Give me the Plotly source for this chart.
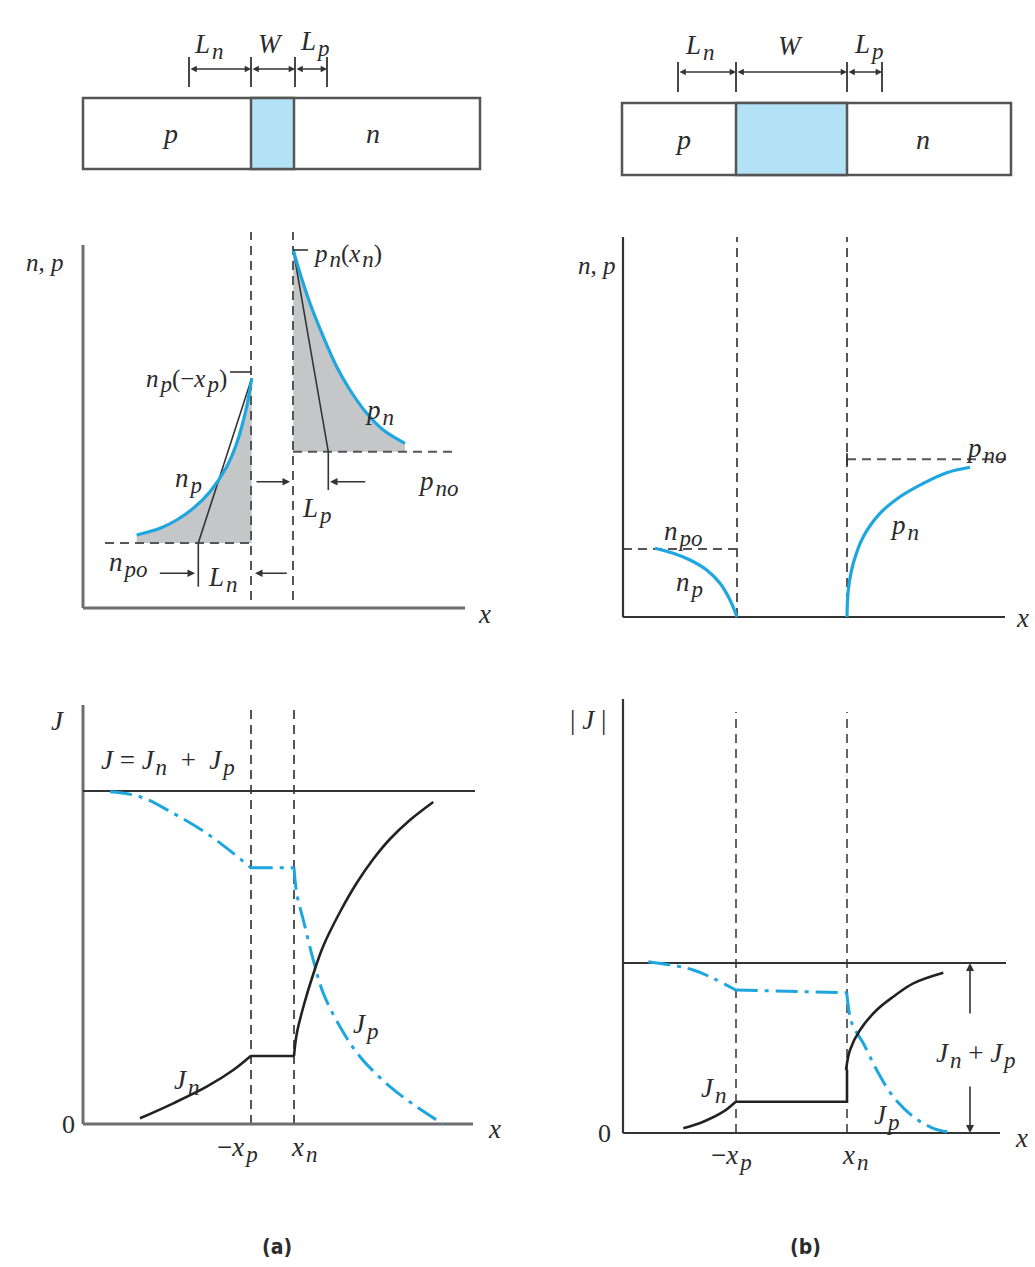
import plotly.graph_objects as go

W, H = 1035, 1267
SCALE = 10.0

BLUE = '#1da6e0'
LBLUE = '#b3e1f6'
GRAY = '#c5c6c8'
DARK = '#333333'
AXA = '#6e6e6e'
DASHC = '#555555'
FONT = 'Liberation Serif'

# ---------------- data (panel units) ----------------
# (a) device bar
dev_a_size = [39.7, 7.1]
dev_a_W = [16.8, 21.1]
dev_a_ticks = [10.6, 16.8, 21.2, 24.4]
dev_a_dim_y = 10.0
dev_a_tick_y = [8.2, 11.2]
# (b) device bar
dev_b_size = [38.9, 7.2]
dev_b_W = [11.4, 22.5]
dev_b_ticks = [5.6, 11.4, 22.5, 26.0]
dev_b_dim_y = 10.3
dev_b_tick_y = [8.3, 11.3]

# (a) carrier panel
a_xp, a_xn = 16.8, 21.0
a_vdash_y = [0.8, 37.6]
a_axis_x = [0, 38.2]
a_axis_y = [0, 36.3]
a_npo = 6.5
a_npo_x = [2.2, 16.8]
a_np_x = [5.37, 7.7, 9.37, 11.03, 12.7, 14.37, 15.37, 16.37, 16.87]
a_np_y = [7.3, 7.97, 8.8, 9.97, 11.63, 14.13, 16.47, 20.13, 22.97]
a_pno = 15.63
a_pno_x = [21.0, 37.37]
a_pn_x = [21.03, 21.7, 22.7, 24.03, 25.37, 26.7, 28.37, 30.03, 32.2]
a_pn_y = [35.8, 33.47, 30.47, 27.13, 24.13, 21.8, 19.47, 17.8, 16.47]
a_Ln_x = [16.87, 11.53, 11.53]
a_Ln_y = [22.97, 6.5, 2.13]
a_Lp_x = [21.03, 24.53, 24.53]
a_Lp_y = [35.8, 15.63, 11.8]

# (b) carrier panel
b_xp, b_xn = 11.4, 22.4
b_vdash_y = [0, 38.0]
b_axis_x = [0, 38.2]
b_axis_y = [0, 38.0]
b_npo = 6.8
b_np_x = [3.2, 5.03, 6.7, 8.37, 9.7, 10.7, 11.4]
b_np_y = [6.87, 6.37, 5.7, 4.7, 3.37, 1.7, 0.0]
b_pno = 15.77
b_pno_x = [22.4, 38.37]
b_pn_x = [22.4, 22.53, 23.03, 24.03, 25.7, 27.7, 30.03, 32.37, 34.7]
b_pn_y = [0.0, 2.7, 5.37, 8.03, 10.37, 12.03, 13.37, 14.43, 14.97]

# (a) current panel
aj_axis_x = [0, 39.0]
aj_axis_y = [0, 41.9]
aj_J = 33.3
aj_J_x = [0, 39.2]
aj_vdash_y = [0, 41.9]
aj_Jp_left_x = [2.7, 5.7, 9.03, 12.37, 15.03, 16.77]
aj_Jp_left_y = [33.23, 32.73, 31.07, 29.07, 27.07, 25.63]
aj_Jp_flat = 25.63
aj_Jp_right_x = [21.1, 21.37, 22.03, 23.03, 24.03, 25.7, 27.7, 30.7, 33.37, 36.0]
aj_Jp_right_y = [25.63, 23.07, 20.4, 16.4, 13.07, 9.73, 6.73, 3.73, 1.73, 0.0]
aj_Jn_left_x = [5.7, 9.03, 12.37, 15.03, 16.77]
aj_Jn_left_y = [0.57, 2.07, 3.73, 5.4, 6.8]
aj_Jn_flat = 6.8
aj_Jn_right_x = [21.1, 21.37, 22.03, 23.03, 24.03, 25.7, 27.37, 29.03, 30.7, 32.7, 35.03]
aj_Jn_right_y = [6.8, 9.0, 11.7, 15.0, 17.8, 21.2, 24.1, 26.5, 28.5, 30.4, 32.2]

# (b) current panel
bj_xp, bj_xn = 11.3, 22.4
bj_axis_x = [0, 37.7]
bj_axis_y = [0, 43.4]
bj_J = 17.0
bj_J_x = [0, 38.3]
bj_vdash_y = [0, 42.1]
bj_Jp_left_x = [2.53, 5.37, 7.03, 9.03, 11.27]
bj_Jp_left_y = [17.13, 16.7, 16.3, 15.47, 14.3]
bj_Jp_flat = [14.3, 14.03]
bj_Jp_right_x = [22.37, 22.7, 23.03, 24.03, 25.37, 27.03, 29.03, 31.03, 33.2]
bj_Jp_right_y = [14.03, 11.63, 10.63, 8.97, 6.3, 3.63, 1.63, 0.47, 0.0]
bj_Jn_left_x = [6.03, 8.03, 10.03, 11.27]
bj_Jn_left_y = [0.47, 1.13, 2.13, 3.13]
bj_Jn_flat = 3.13
bj_Jn_right_x = [22.3, 22.7, 23.7, 25.37, 27.03, 29.03, 32.03]
bj_Jn_right_y = [6.3, 8.3, 10.3, 12.3, 13.63, 14.97, 16.03]
bj_sum_x = 34.7
bj_sum_y = [0.0, 4.8, 11.8, 17.0]

# ---------------- panels: origin pixel and rect (L, T, R, B) ----------------
PANELS = [
    ((83, 169), (70, 20, 495, 185)),     # 1 device a
    ((622, 175), (610, 20, 1025, 190)),  # 2 device b
    ((83, 608), (70, 220, 495, 622)),    # 3 carriers a
    ((623, 617), (610, 220, 1025, 632)), # 4 carriers b
    ((83, 1124), (70, 690, 495, 1138)),  # 5 current a
    ((623, 1133), (610, 690, 1025, 1147)),  # 6 current b
]


def xid(i):
    return 'x' if i == 1 else f'x{i}'


def yid(i):
    return 'y' if i == 1 else f'y{i}'


fig = go.Figure()
layout_axes = {}
for i, ((ox, oy), (L, T, R, B)) in enumerate(PANELS, start=1):
    xa = 'xaxis' if i == 1 else f'xaxis{i}'
    ya = 'yaxis' if i == 1 else f'yaxis{i}'
    layout_axes[xa] = dict(domain=[L / W, R / W], range=[(L - ox) / SCALE, (R - ox) / SCALE],
                           visible=False, anchor=yid(i), fixedrange=True)
    layout_axes[ya] = dict(domain=[1 - B / H, 1 - T / H], range=[(oy - B) / SCALE, (oy - T) / SCALE],
                           visible=False, anchor=xid(i), fixedrange=True)


def line(i, xs, ys, color=DARK, width=2, dash=None, shape='linear'):
    fig.add_trace(go.Scatter(x=xs, y=ys, xaxis=xid(i), yaxis=yid(i), mode='lines',
                             line=dict(color=color, width=width, dash=dash, shape=shape, smoothing=1.0),
                             hoverinfo='skip', showlegend=False))


def fill(i, xs, ys, color):
    fig.add_trace(go.Scatter(x=xs, y=ys, xaxis=xid(i), yaxis=yid(i), mode='lines', fill='toself',
                             fillcolor=color, line=dict(width=0, color=color),
                             hoverinfo='skip', showlegend=False))


annots = []
shapes = []


def arrow(i, x0, y0, x1, y1, both=False, size=1.0, width=1.5):
    annots.append(dict(xref=xid(i), yref=yid(i), axref=xid(i), ayref=yid(i),
                       x=x1, y=y1, ax=x0, ay=y0, text='', showarrow=True,
                       arrowhead=2, arrowsize=size, arrowwidth=width, arrowcolor=DARK,
                       arrowside='end+start' if both else 'end', standoff=0, startstandoff=0))


MAIN = 27


def txt(px, py, text, size=MAIN, xanchor='center', yanchor='middle', family=FONT, color='#2b2b2b'):
    annots.append(dict(xref='paper', yref='paper', x=px / W, y=1 - py / H, text=text,
                       showarrow=False, xanchor=xanchor, yanchor=yanchor,
                       font=dict(family=family, size=size, color=color)))


def S(base, s, sz=23):
    return f'<i>{base}<sub><span style="font-size:{sz}px">&#8202;{s}</span></sub></i>'


I = lambda s: f'<i>{s}</i>'
SP = '&nbsp;'
SP2 = '&nbsp;&nbsp;'

DASH = '9px,6px'
JDASH = '22px,7px,4px,7px'

# ---------------- device bars ----------------
for i, size, wreg, ticks, dimy, ty in [
        (1, dev_a_size, dev_a_W, dev_a_ticks, dev_a_dim_y, dev_a_tick_y),
        (2, dev_b_size, dev_b_W, dev_b_ticks, dev_b_dim_y, dev_b_tick_y)]:
    shapes.append(dict(type='rect', xref=xid(i), yref=yid(i), x0=0, y0=0, x1=size[0], y1=size[1],
                       fillcolor='white', line=dict(color='#555555', width=2.5), layer='below'))
    shapes.append(dict(type='rect', xref=xid(i), yref=yid(i), x0=wreg[0], y0=0, x1=wreg[1], y1=size[1],
                       fillcolor=LBLUE, line=dict(color='#555555', width=2.5), layer='below'))
    for t in ticks:
        line(i, [t, t], ty, color=DARK, width=1.8)
    for a, b in zip(ticks[:-1], ticks[1:]):
        arrow(i, a, dimy, b, dimy, both=True, size=0.9, width=1.4)

# ---------------- (a) carriers ----------------
fill(3, a_np_x + [a_np_x[-1], a_np_x[0]], a_np_y + [a_npo, a_npo], GRAY)
fill(3, a_pn_x + [a_pn_x[-1], a_pn_x[0]], a_pn_y + [a_pno, a_pno], GRAY)
line(3, [a_xp, a_xp], a_vdash_y, DASHC, 2, DASH)
line(3, [a_xn, a_xn], a_vdash_y, DASHC, 2, DASH)
line(3, a_npo_x, [a_npo, a_npo], DASHC, 2, DASH)
line(3, a_pno_x, [a_pno, a_pno], DASHC, 2, DASH)
line(3, a_axis_x, [0, 0], AXA, 3)
line(3, [0, 0], a_axis_y, AXA, 3)
line(3, a_Ln_x, a_Ln_y, DARK, 1.6)
line(3, a_Lp_x, a_Lp_y, DARK, 1.6)
line(3, a_np_x, a_np_y, BLUE, 3.2, shape='spline')
line(3, a_pn_x, a_pn_y, BLUE, 3.2, shape='spline')
line(3, [14.7, a_xp], [23.6, 23.6], DARK, 1.6)
line(3, [a_xn, 22.5], [35.8, 35.8], DARK, 1.6)
arrow(3, 17.2, 12.63, 20.7, 12.63)
arrow(3, 28.37, 12.63, 24.7, 12.63)
arrow(3, 7.53, 3.47, 11.2, 3.47)
arrow(3, 20.53, 3.47, 17.2, 3.47)

# ---------------- (b) carriers ----------------
line(4, [b_xp, b_xp], b_vdash_y, DASHC, 2, DASH)
line(4, [b_xn, b_xn], b_vdash_y, DASHC, 2, DASH)
line(4, [0, b_xp], [b_npo, b_npo], DASHC, 2, DASH)
line(4, b_pno_x, [b_pno, b_pno], DASHC, 2, DASH)
line(4, [b_xn, b_xn], [b_pno - 0.6, b_pno + 0.6], DARK, 1.8)
line(4, b_axis_x, [0, 0], DARK, 2.2)
line(4, [0, 0], b_axis_y, DARK, 2.2)
line(4, b_np_x, b_np_y, BLUE, 3.2, shape='spline')
line(4, b_pn_x, b_pn_y, BLUE, 3.2, shape='spline')

# ---------------- (a) current ----------------
line(5, [a_xp, a_xp], aj_vdash_y, DASHC, 2, DASH)
line(5, [21.1, 21.1], aj_vdash_y, DASHC, 2, DASH)
line(5, aj_axis_x, [0, 0], AXA, 3)
line(5, [0, 0], aj_axis_y, AXA, 3)
line(5, aj_J_x, [aj_J, aj_J], DARK, 2)
line(5, aj_Jp_left_x, aj_Jp_left_y, BLUE, 3, JDASH, 'spline')
line(5, [aj_Jp_left_x[-1], aj_Jp_right_x[0]], [aj_Jp_flat, aj_Jp_flat], BLUE, 3, JDASH)
line(5, aj_Jp_right_x, aj_Jp_right_y, BLUE, 3, JDASH, 'spline')
line(5, aj_Jn_left_x, aj_Jn_left_y, '#222222', 2.6, shape='spline')
line(5, [aj_Jn_left_x[-1], aj_Jn_right_x[0]], [aj_Jn_flat, aj_Jn_flat], '#222222', 2.6)
line(5, aj_Jn_right_x, aj_Jn_right_y, '#222222', 2.6, shape='spline')

# ---------------- (b) current ----------------
line(6, [bj_xp, bj_xp], bj_vdash_y, DASHC, 1.8, DASH)
line(6, [bj_xn, bj_xn], bj_vdash_y, DASHC, 1.8, DASH)
line(6, bj_axis_x, [0, 0], DARK, 2.2)
line(6, [0, 0], bj_axis_y, DARK, 2.2)
line(6, bj_J_x, [bj_J, bj_J], DARK, 1.8)
line(6, bj_Jp_left_x, bj_Jp_left_y, BLUE, 3, JDASH, 'spline')
line(6, [bj_Jp_left_x[-1], bj_Jp_right_x[0]], bj_Jp_flat, BLUE, 3, JDASH)
line(6, bj_Jp_right_x, bj_Jp_right_y, BLUE, 3, JDASH, 'spline')
line(6, bj_Jn_left_x, bj_Jn_left_y, '#222222', 2.6, shape='spline')
line(6, [bj_Jn_left_x[-1], 22.4, 22.4], [bj_Jn_flat, bj_Jn_flat, bj_Jn_right_y[0]], '#222222', 2.6)
line(6, bj_Jn_right_x, bj_Jn_right_y, '#222222', 2.6, shape='spline')
arrow(6, bj_sum_x, bj_sum_y[2], bj_sum_x, bj_sum_y[3], width=1.6)
arrow(6, bj_sum_x, bj_sum_y[1], bj_sum_x, bj_sum_y[0], width=1.6)

# ---------------- labels ----------------
# device labels
txt(208, 46, S('L', 'n')); txt(270, 44, I('W')); txt(314, 44, S('L', 'p'))
txt(170, 134, I('p'), 28); txt(373, 134, I('n'), 28)
txt(699, 48, S('L', 'n')); txt(790, 46, I('W')); txt(868, 47, S('L', 'p'))
txt(683, 139, I('p'), 28); txt(923, 139, I('n'), 28)

# (a) carriers labels
txt(45, 262, '<i>n</i>,' + SP + '<i>p</i>', 25)
txt(484, 614, I('x'), 27)
txt(229, 381, S('n', 'p') + '(−' + S('x', 'p') + ')', 25, xanchor='right')
txt(311, 256, S('p', 'n') + '(' + S('x', 'n') + ')', 25, xanchor='left')
txt(188, 480, S('n', 'p'))
txt(379, 412, S('p', 'n'))
txt(438, 484, S('p', 'no'))
txt(128, 564, S('n', 'po'))
txt(222, 579, S('L', 'n'))
txt(316, 510, S('L', 'p'))

# (b) carriers labels
txt(597, 265, '<i>n</i>,' + SP + '<i>p</i>', 25)
txt(1022, 618, I('x'), 27)
txt(683, 533, S('n', 'po'))
txt(689, 585, S('n', 'p'))
txt(904, 528, S('p', 'n'))
txt(986, 450, S('p', 'no'))

# (a) current labels
txt(58, 721, I('J'))
txt(168, 762, I('J') + SP + '=' + SP + S('J', 'n') + SP2 + '+' + SP2 + S('J', 'p'))
txt(365, 1026, S('J', 'p'))
txt(186, 1082, S('J', 'n'))
txt(68, 1124, '0', 26)
txt(237, 1149, '−' + S('x', 'p'))
txt(304, 1149, S('x', 'n'))
txt(494, 1129, I('x'), 27)

# (b) current labels
txt(588, 720, '|' + SP + I('J') + SP + '|')
txt(976, 1055, S('J', 'n') + SP + '+' + SP + S('J', 'p'))
txt(713, 1090, S('J', 'n'))
txt(886, 1117, S('J', 'p'))
txt(604, 1133, '0', 26)
txt(731, 1157, '−' + S('x', 'p'))
txt(855, 1157, S('x', 'n'))
txt(1021, 1138, I('x'), 27)

# captions
txt(277, 1247, '<b>(a)</b>', 21, family='DejaVu Sans Condensed')
txt(805, 1247, '<b>(b)</b>', 21, family='DejaVu Sans Condensed')

fig.update_layout(width=W, height=H, margin=dict(l=0, r=0, t=0, b=0),
                  paper_bgcolor='white', plot_bgcolor='rgba(0,0,0,0)',
                  showlegend=False, annotations=annots, shapes=shapes, **layout_axes)

fig.write_html('out.html', include_plotlyjs=True, config={'displayModeBar': False, 'staticPlot': True},
               post_script="document.body.style.margin='0';document.body.style.overflow='hidden';")
